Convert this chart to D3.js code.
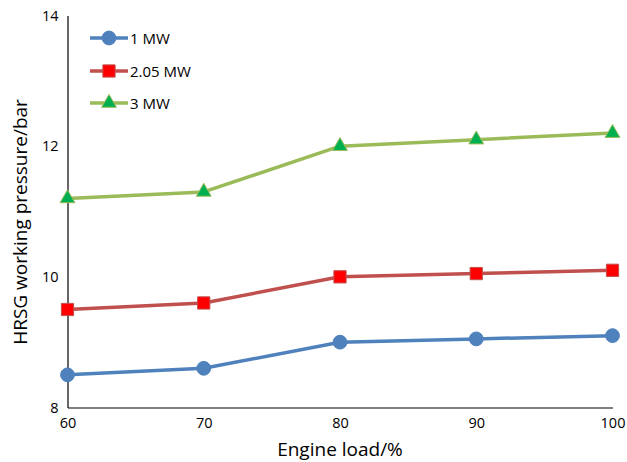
<!DOCTYPE html>
<html><head><meta charset="utf-8">
<script src="https://cdn.jsdelivr.net/npm/d3@7"></script>
<style>body{margin:0;background:#fff;} text{font-family:"Open Sans",sans-serif;fill:#000;}</style>
</head><body><svg id="c" width="627" height="462"></svg>
<script>
const loads = [60, 70, 80, 90, 100];
const seriesNames = ["1 MW", "2.05 MW", "3 MW"];
const mw1 = [8.5, 8.6, 9.0, 9.05, 9.1];
const mw205 = [9.5, 9.6, 10.0, 10.05, 10.1];
const mw3 = [11.2, 11.3, 12.0, 12.1, 12.2];
const xTicks = [60, 70, 80, 90, 100];
const yTicks = [8, 10, 12, 14];

const svg = d3.select("#c");
const x = d3.scaleLinear().domain([60, 100]).range([67.5, 612.5]);
const y = d3.scaleLinear().domain([8, 14]).range([407.5, 15.5]);

const styles = [
  {line:"#4f81bd", fill:"#4f81bd", stroke:"#4f81bd", sym:d3.symbolCircle, size:150},
  {line:"#c0504d", fill:"#ff0000", stroke:"#c0504d", sym:d3.symbolSquare, size:150},
  {line:"#9bbb59", fill:"#00b050", stroke:"#9bbb59", sym:d3.symbolTriangle, size:95}
];
const data = [mw1, mw205, mw3];

// axes
const xAxis = d3.axisBottom(x).tickValues(xTicks).tickFormat(d3.format("d")).tickSize(0).tickPadding(10);
const gx = svg.append("g").attr("transform","translate(0,407.5)").call(xAxis);
gx.select(".domain").attr("stroke","#000").attr("stroke-width",1.2);
gx.selectAll("text").style("font-size","14.5px").attr("fill","#000");

const yAxis = d3.axisLeft(y).tickValues(yTicks).tickFormat(d3.format("d")).tickSize(0).tickPadding(9);
const gy = svg.append("g").attr("transform","translate(67.5,0)").call(yAxis);
gy.select(".domain").attr("stroke","#000").attr("stroke-width",1.2);
gy.selectAll("text").style("font-size","14.5px").attr("fill","#000");

// lines
const line = d3.line().x((d,i)=>x(loads[i])).y(d=>y(d));
data.forEach((vals, k) => {
  const s = styles[k];
  svg.append("path").datum(vals).attr("d", line).attr("fill","none")
    .attr("stroke", s.line).attr("stroke-width", 3.5).attr("stroke-linejoin","round");
  svg.selectAll(null).data(vals).enter().append("path")
    .attr("transform",(d,i)=>`translate(${x(loads[i])},${y(d)})`)
    .attr("d", d3.symbol().type(s.sym).size(s.size))
    .attr("fill", s.fill).attr("stroke", s.stroke).attr("stroke-width",1);
});

// legend
const legY = [38, 71, 103];
seriesNames.forEach((name,k)=>{
  const s = styles[k];
  const g = svg.append("g").attr("transform",`translate(90,${legY[k]})`);
  g.append("line").attr("x1",0).attr("x2",38).attr("stroke",s.line).attr("stroke-width",3.5);
  g.append("path").attr("transform","translate(19,0)")
    .attr("d", d3.symbol().type(s.sym).size(s.size)).attr("fill",s.fill).attr("stroke",s.stroke).attr("stroke-width",1);
  g.append("text").attr("x",40).attr("y",5.5).style("font-size","15px").text(name);
});

// axis titles
svg.append("text").attr("x",340).attr("y",456).attr("text-anchor","middle").style("font-size","19px").text("Engine load/%");
svg.append("text").attr("transform","translate(27,222) rotate(-90)").attr("text-anchor","middle").style("font-size","19px").text("HRSG working pressure/bar");
</script></body></html>
